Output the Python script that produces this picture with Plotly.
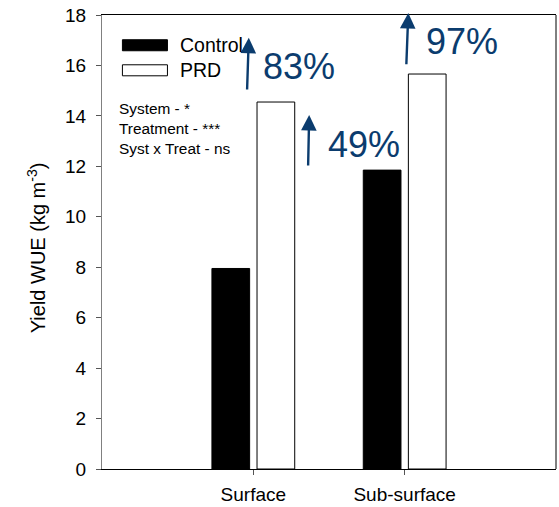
import plotly.graph_objects as go

# Yield water-use efficiency by irrigation system and treatment
systems = ["Surface", "Sub-surface"]
control_wue = [7.95, 11.85]
prd_wue = [14.55, 15.66]
increase_labels = ["83%", "49%", "97%"]
stats_lines = ["System - *", "Treatment - ***", "Syst x Treat - ns"]

FONT = "Liberation Sans, Arial, sans-serif"
ARROW_BLUE = "#0b3c6e"

fig = go.Figure()
fig.add_trace(go.Bar(name="Control", x=systems, y=control_wue,
                     marker=dict(color="black", line=dict(color="black", width=1)),
                     showlegend=False))
fig.add_trace(go.Bar(name="PRD", x=systems, y=prd_wue,
                     marker=dict(color="white", line=dict(color="black", width=1)),
                     showlegend=False))

# Percentage-increase arrows (tail x, tail y, tip x, tip y) in axis units
arrow_specs = [
    (-0.043, 14.71, -0.030, 17.10),
    (0.361, 11.70, 0.369, 14.04),
    (1.009, 15.71, 1.024, 18.08),
]
label_pos = [(0.050, 15.95), (0.480, 12.87), (1.130, 16.94)]

annotations = []
for (tx, ty, hx, hy) in arrow_specs:
    annotations.append(dict(
        x=hx, y=hy, ax=tx, ay=ty, xref="x", yref="y", axref="x", ayref="y",
        text=" ", showarrow=True, arrowhead=2, arrowsize=1.3, arrowwidth=2.4,
        arrowcolor=ARROW_BLUE, standoff=0, startstandoff=0))
for (lx, ly), txt in zip(label_pos, increase_labels):
    annotations.append(dict(
        x=lx, y=ly, xref="x", yref="y", text=txt, showarrow=False,
        xanchor="left", yanchor="middle",
        font=dict(family=FONT, size=36, color=ARROW_BLUE)))

# Legend drawn as keys + labels
def px_x(p):
    return (p - 102.3) / 453.7

def px_y(p):
    return (468.5 - p) / 453.2

shapes = [
    dict(type="rect", xref="paper", yref="paper",
         x0=px_x(122.7), x1=px_x(167.7), y0=px_y(51), y1=px_y(40),
         fillcolor="black", line=dict(color="black", width=1)),
    dict(type="rect", xref="paper", yref="paper",
         x0=px_x(122.7), x1=px_x(167.7), y0=px_y(76), y1=px_y(65),
         fillcolor="white", line=dict(color="black", width=1)),
    # right frame edge
    dict(type="line", xref="paper", yref="paper", x0=1, x1=1, y0=0, y1=1,
         line=dict(color="black", width=1)),
]
for label, ycen in (("Control", 45.5), ("PRD", 70.5)):
    annotations.append(dict(
        x=px_x(178), y=px_y(ycen), xref="paper", yref="paper", text=label,
        showarrow=False, xanchor="left", yanchor="middle",
        font=dict(family=FONT, size=19.5, color="black")))

annotations.append(dict(
    x=px_x(117), y=px_y(129), xref="paper", yref="paper",
    text="<br>".join(stats_lines), align="left", showarrow=False,
    xanchor="left", yanchor="middle",
    font=dict(family=FONT, size=15.4, color="black")))

annotations.append(dict(
    x=px_x(37), y=px_y(247.5), xref="paper", yref="paper",
    text="Yield WUE (kg m<sup>-3</sup>)", textangle=-90, showarrow=False,
    xanchor="center", yanchor="middle",
    font=dict(family=FONT, size=20, color="black")))

fig.update_layout(
    width=559, height=507, autosize=False,
    margin=dict(l=102, r=3, t=15, b=38),
    plot_bgcolor="white", paper_bgcolor="white",
    barmode="group", bargap=0.404, bargroupgap=0.164,
    font=dict(family=FONT, color="black"),
    shapes=shapes, annotations=annotations,
    xaxis=dict(type="category", categoryorder="array", categoryarray=systems,
               range=[-1, 2], showline=True, linecolor="black", linewidth=1.3,
               mirror=True, ticks="outside", ticklen=5, tickcolor="#555555",
               tickfont=dict(family=FONT, size=19, color="black"),
               ticklabelstandoff=3, showgrid=False, zeroline=False,
               automargin=False),
    yaxis=dict(range=[0, 18], dtick=2, showline=True, linecolor="#808080",
               linewidth=1.3, ticks="outside", ticklen=5, tickcolor="#555555",
               tickfont=dict(family=FONT, size=19, color="black"),
               ticklabelstandoff=6, showgrid=False, zeroline=False,
               automargin=False),
)

fig.write_html("out.html")
